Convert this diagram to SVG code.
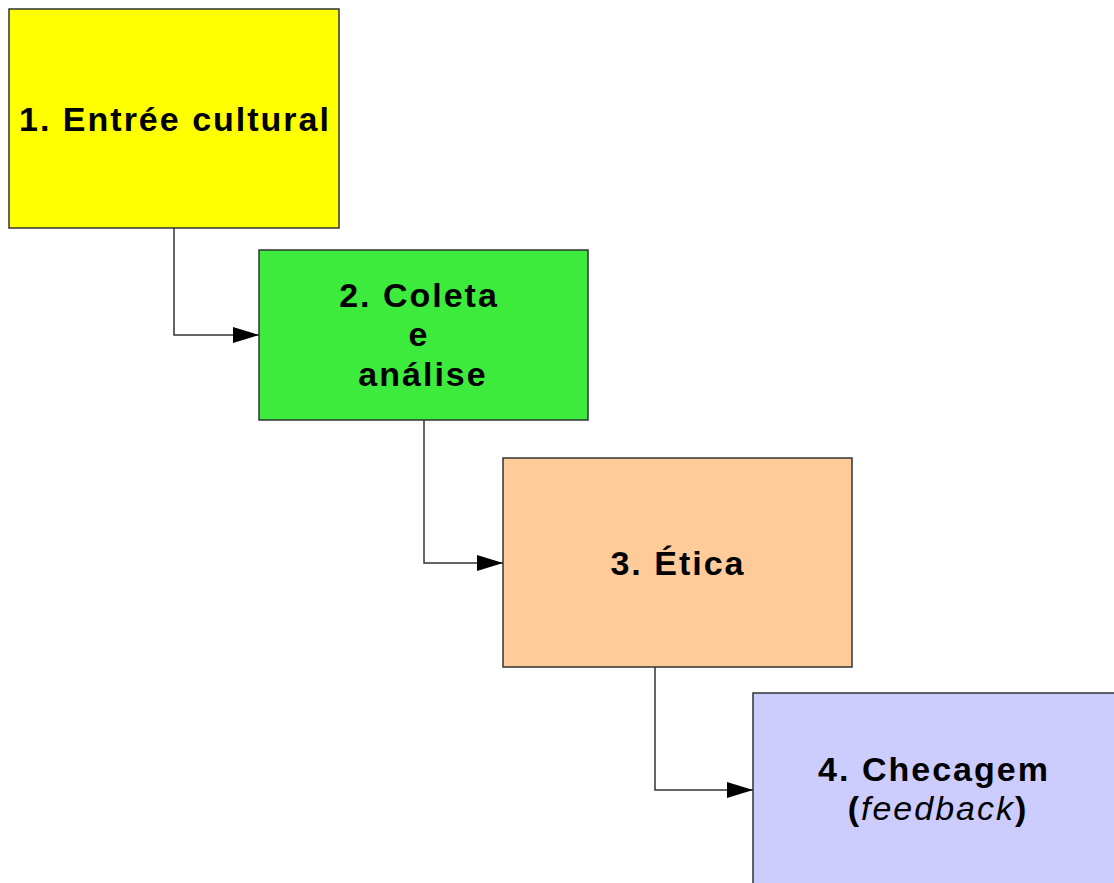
<svg xmlns="http://www.w3.org/2000/svg" width="1114" height="883" viewBox="0 0 1114 883">
<style>
.box{stroke:#333;stroke-width:1.5}
.t{font-family:"Liberation Sans",Arial,sans-serif;font-weight:bold;font-size:34px;letter-spacing:2px;text-anchor:middle;fill:#000}
.c{fill:none;stroke:#333;stroke-width:1.5}
</style>
<defs>
<marker id="ah" markerWidth="26" markerHeight="16" refX="26" refY="8" orient="auto" markerUnits="userSpaceOnUse">
<path d="M0,0 L26,8 L0,16 Z" fill="#000"/>
</marker>
</defs>
<rect width="1114" height="883" fill="#fff"/>
<g id="connectors">
<polyline class="c" points="174,228 174,335 259,335" marker-end="url(#ah)"/>
<polyline class="c" points="424,420 424,563 503,563" marker-end="url(#ah)"/>
<polyline class="c" points="655,667 655,790 753,790" marker-end="url(#ah)"/>
</g>
<g id="n1">
<rect class="box" x="9" y="9" width="330" height="219" fill="#ffff00"/>
<text class="t" x="175" y="131">1. Entrée cultural</text>
</g>
<g id="n2">
<rect class="box" x="259" y="250" width="329" height="170" fill="#3deb3d"/>
<text class="t" x="419" y="307">2. Coleta</text>
<text class="t" x="419" y="346">e</text>
<text class="t" x="423" y="386">análise</text>
</g>
<g id="n3">
<rect class="box" x="503" y="458" width="349" height="209" fill="#ffcc99"/>
<text class="t" x="678" y="575">3. Ética</text>
</g>
<g id="n4">
<rect class="box" x="753" y="693" width="370" height="200" fill="#ccccff"/>
<text class="t" x="934" y="781">4. Checagem</text>
<text class="t" x="938" y="820">(<tspan font-style="italic" font-weight="normal">feedback</tspan>)</text>
</g>
</svg>
